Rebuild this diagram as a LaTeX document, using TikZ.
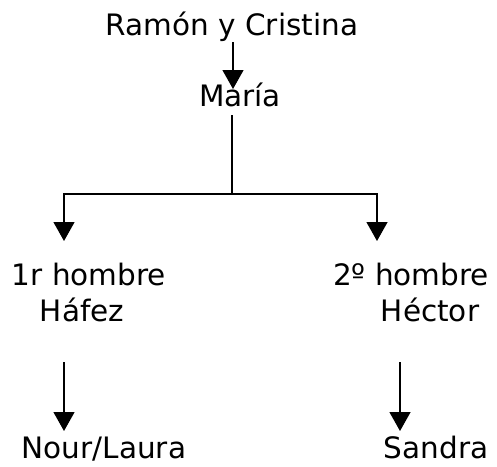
\documentclass[tikz,border=0pt]{standalone}
\usepackage{fontspec}
\setmainfont{DejaVu Sans}
\usetikzlibrary{arrows.meta}
\begin{document}
\begin{tikzpicture}[x=1pt,y=-1pt,
  lbl/.style={inner sep=0pt,anchor=base,font=\fontsize{29.5}{35}\selectfont},
  conn/.style={line width=1.3pt,line cap=butt},
  arr/.style={conn,-{Triangle[width=21pt,length=19pt]}}]
\useasboundingbox (0,0) rectangle (497,466);
\node[lbl] (rc) at (232,35) {Ramón y Cristina};
\node[lbl] (maria) at (240,106) {María};
\node[lbl] (h1a) at (89,285) {1r hombre};
\node[lbl] (h1b) at (82,321) {Háfez};
\node[lbl] (h2a) at (411,285) {2º hombre};
\node[lbl] (h2b) at (430,321) {Héctor};
\node[lbl] (nl) at (104,458) {Nour/Laura};
\node[lbl] (sa) at (436,458) {Sandra};
\coordinate (a1s) at (233,42);
\coordinate (a1t) at (233,89);
\coordinate (ms) at (232,115);
\coordinate (mj) at (232,194);
\coordinate (lj) at (64,194);
\coordinate (rj) at (377,194);
\coordinate (lt) at (64,241);
\coordinate (rt) at (377,241);
\coordinate (l2s) at (64,362);
\coordinate (l2t) at (64,431);
\coordinate (r2s) at (400,362);
\coordinate (r2t) at (400,431);
\draw[arr] (a1s) -- (a1t);
\draw[conn] (ms) -- (mj);
\draw[arr] (mj) -- (lj) -- (lt);
\draw[arr] (mj) -- (rj) -- (rt);
\draw[arr] (l2s) -- (l2t);
\draw[arr] (r2s) -- (r2t);
\end{tikzpicture}
\end{document}
